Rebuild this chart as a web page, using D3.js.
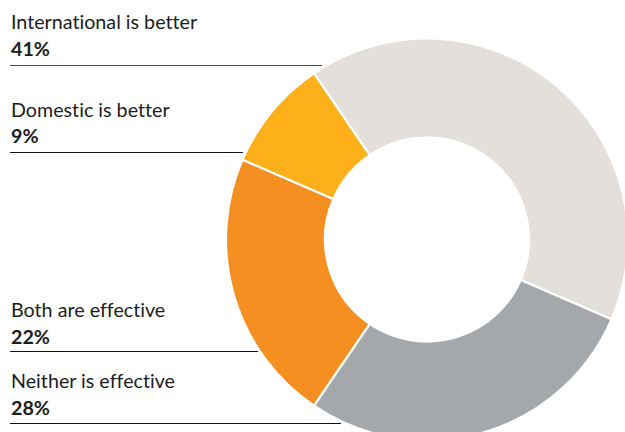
<!DOCTYPE html>
<html>
<head>
<meta charset="utf-8">
<script src="https://cdn.jsdelivr.net/npm/d3@7/dist/d3.min.js"></script>
<style>
  html, body { margin: 0; padding: 0; background: #fff; }
  svg { display: block; }
  .lbl { font-family: Lato, "Open Sans", sans-serif; fill: #1c1c1c; font-variant-ligatures: none; font-feature-settings: "liga" 0, "clig" 0; }
</style>
</head>
<body>
<svg id="chart" width="625" height="432"></svg>
<script>
// ---- data ----
const categories = ["International is better", "Neither is effective", "Both are effective", "Domestic is better"];
const values = [41, 28, 22, 9];
const valueLabels = ["41%", "28%", "22%", "9%"];
const colors = ["#E3E0DB", "#A5A8AA", "#F68F21", "#FDB01A"];
const labelOrder = ["International is better", "Domestic is better", "Both are effective", "Neither is effective"];

// ---- layout ----
const W = 625, H = 432;
const cx = 427, cy = 239.5, outerR = 201, innerR = 102;
const startDeg = -34.2;
const labelLayout = {
  "International is better": { nameY: 29, valY: 56, ruleY: 65.5, ruleEnd: 322, ruleColor: "#4a4a4a" },
  "Domestic is better":      { nameY: 117, valY: 143, ruleY: 152.5, ruleEnd: 243, ruleColor: "#111" },
  "Both are effective":      { nameY: 316.5, valY: 344, ruleY: 351.5, ruleEnd: 258, ruleColor: "#111" },
  "Neither is effective":    { nameY: 388, valY: 415, ruleY: 423.5, ruleEnd: 341, ruleColor: "#111" }
};

const svg = d3.select("#chart");
const color = d3.scaleOrdinal().domain(categories).range(colors);

const rows = categories.map((c, i) => ({ name: c, value: values[i], label: valueLabels[i] }));

const pie = d3.pie()
  .sort(null)
  .value(d => d.value)
  .startAngle(startDeg * Math.PI / 180)
  .endAngle(startDeg * Math.PI / 180 + 2 * Math.PI);

const arc = d3.arc().innerRadius(innerR).outerRadius(outerR);

const g = svg.append("g").attr("transform", `translate(${cx},${cy})`);
g.selectAll("path")
  .data(pie(rows))
  .join("path")
  .attr("d", arc)
  .attr("fill", d => color(d.data.name))
  .attr("stroke", "#fff")
  .attr("stroke-width", 2.2)
  .attr("stroke-linejoin", "miter");

// ---- labels ----
const lx = 11;
const lg = svg.append("g");
labelOrder.forEach(name => {
  const r = rows.find(d => d.name === name);
  const L = labelLayout[name];
  lg.append("text").attr("class", "lbl")
    .attr("x", lx).attr("y", L.nameY)
    .attr("font-size", 19.7).attr("font-weight", 400)
    .text(r.name);
  lg.append("text").attr("class", "lbl")
    .attr("x", lx).attr("y", L.valY)
    .attr("font-size", 19.7).attr("font-weight", 700)
    .text(r.label);
  lg.append("line")
    .attr("x1", 10).attr("x2", L.ruleEnd)
    .attr("y1", L.ruleY).attr("y2", L.ruleY)
    .attr("stroke", L.ruleColor).attr("stroke-width", 1);
});
</script>
</body>
</html>
